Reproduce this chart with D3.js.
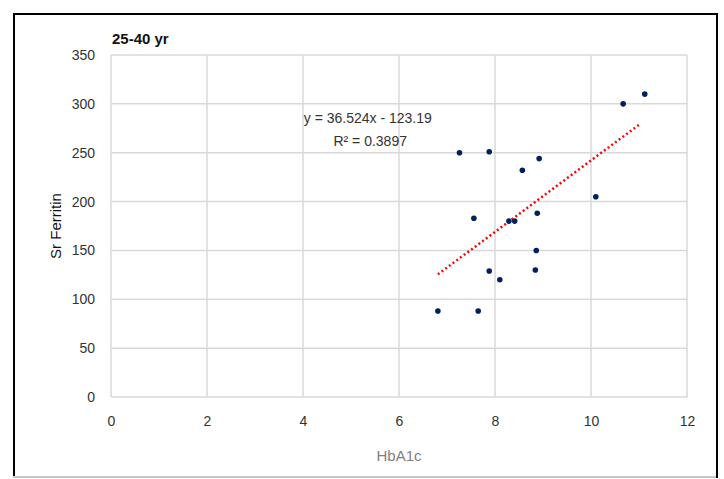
<!DOCTYPE html>
<html>
<head>
<meta charset="utf-8">
<script src="https://cdn.jsdelivr.net/npm/d3@7"></script>
<style>
  body { margin: 0; background: #fff; }
  text { font-family: "Liberation Sans", Arial, sans-serif; }
</style>
</head>
<body>
<div id="chart"></div>
<script>
// HbA1c vs serum ferritin, 25-40 yr group
const hba1c = [6.81, 7.65, 7.26, 7.88, 7.56, 7.88, 8.10, 8.29, 8.41, 8.57, 8.92, 8.88, 8.86, 8.84, 10.10, 10.67, 11.12];
const ferritin = [88, 88, 250, 251, 183, 129, 120, 180, 180, 232, 244, 188, 150, 130, 205, 300, 310];
const xTicks = [0, 2, 4, 6, 8, 10, 12];
const yTicks = [0, 50, 100, 150, 200, 250, 300, 350];
const trend = { slope: 36.524, intercept: -123.19 };
const trendLabel = ['y = 36.524x - 123.19', 'R² = 0.3897'];

const width = 724, height = 479;
const margin = {top: 55, right: 37, bottom: 82, left: 111};
const innerW = width - margin.left - margin.right;
const innerH = height - margin.top - margin.bottom;

const svg = d3.select('#chart').append('svg')
    .attr('width', width)
    .attr('height', height);

// outer frame
svg.append('rect')
  .attr('x', 14).attr('y', 14)
  .attr('width', 703).attr('height', 463)
  .attr('fill', 'none').attr('stroke', '#000').attr('stroke-width', 2);
svg.append('line')
  .attr('x1', 13).attr('x2', 716).attr('y1', 477).attr('y2', 477)
  .attr('stroke', '#c8c8c8').attr('stroke-width', 2);

const plot = svg.append('g').attr('transform', `translate(${margin.left},${margin.top})`);

const x = d3.scaleLinear().domain([0, 12]).range([0, innerW]);
const y = d3.scaleLinear().domain([0, 350]).range([innerH, 0]);

// grid
plot.append('g').selectAll('line').data(xTicks).join('line')
  .attr('x1', d => x(d)).attr('x2', d => x(d))
  .attr('y1', 0).attr('y2', innerH)
  .attr('stroke', '#d9d9d9').attr('stroke-width', 1.5);
plot.append('g').selectAll('line').data(yTicks).join('line')
  .attr('x1', 0).attr('x2', innerW)
  .attr('y1', d => y(d)).attr('y2', d => y(d))
  .attr('stroke', '#d9d9d9').attr('stroke-width', 1.5);

// axes (labels only, Excel style)
const xAxis = plot.append('g').attr('transform', `translate(0,${innerH})`)
  .call(d3.axisBottom(x).tickValues(xTicks).tickSize(0).tickPadding(19).tickFormat(d3.format('d')));
const yAxis = plot.append('g')
  .call(d3.axisLeft(y).tickValues(yTicks).tickSize(0).tickPadding(16).tickFormat(d3.format('d')));
[xAxis, yAxis].forEach(a => {
  a.select('.domain').remove();
  a.selectAll('text').attr('font-size', 14).attr('fill', '#333')
    .style('font-family', '"Liberation Sans", Arial, sans-serif');
});

// trendline over data range
const [xmin, xmax] = d3.extent(hba1c);
const xEnd = xmax - 0.1;
plot.append('line')
  .attr('x1', x(xmin)).attr('y1', y(trend.slope * xmin + trend.intercept))
  .attr('x2', x(xEnd)).attr('y2', y(trend.slope * xEnd + trend.intercept))
  .attr('stroke', '#ff0000').attr('stroke-width', 2.5)
  .attr('stroke-dasharray', '2 2.6');

// points
plot.append('g').selectAll('circle').data(hba1c).join('circle')
  .attr('cx', d => x(d))
  .attr('cy', (d, i) => y(ferritin[i]))
  .attr('r', 2.8)
  .attr('fill', '#002060');

// equation label
plot.selectAll('.eq').data(trendLabel).join('text')
  .attr('class', 'eq')
  .attr('x', (d, i) => i === 0 ? x(5.35) : x(5.4))
  .attr('y', (d, i) => 68 + i * 23)
  .attr('text-anchor', 'middle')
  .attr('font-size', 14)
  .attr('fill', '#333')
  .text(d => d);

// title
svg.append('text')
  .attr('x', 112).attr('y', 44)
  .attr('font-size', 15).attr('font-weight', 'bold')
  .attr('fill', '#111')
  .text('25-40 yr');

// axis titles
svg.append('text')
  .attr('transform', `translate(61,${margin.top + innerH / 2}) rotate(-90)`)
  .attr('text-anchor', 'middle')
  .attr('font-size', 15)
  .attr('fill', '#111')
  .text('Sr Ferritin');
svg.append('text')
  .attr('x', margin.left + innerW / 2).attr('y', 461)
  .attr('text-anchor', 'middle')
  .attr('font-size', 15)
  .attr('fill', '#7f7f7f')
  .text('HbA1c');
</script>
</body>
</html>
